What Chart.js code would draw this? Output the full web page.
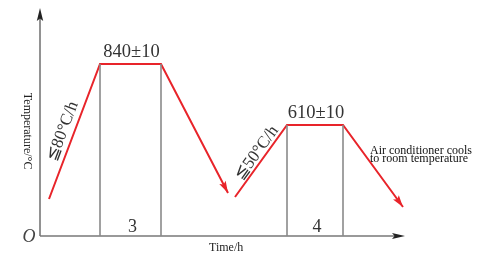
<!DOCTYPE html>
<html>
<head>
<meta charset="utf-8">
<script src="https://cdn.jsdelivr.net/npm/chart.js@4"></script>
<style>
html,body{margin:0;padding:0;background:#fff;}
#wrap{width:485px;height:272px;position:relative;}
</style>
</head>
<body>
<div id="wrap"><canvas id="c"></canvas></div>
<script>
// Schematic heat-treatment process (arbitrary time / temperature units)
const stage1Time = [9, 60, 121, 188];
const stage1Temp = [37, 172, 172, 43];
const stage2Time = [195, 247, 303, 363];
const stage2Temp = [39, 111, 111, 29];
const holdLabels = ["840±10", "610±10"];
const holdHours = ["3", "4"];
const rateLabels = ["≦80°C/h", "≦50°C/h"];
const coolNote = ["Air conditioner cools", "to room temperature"];
const xTitle = "Time/h";
const yTitle = "Temperature/°C";
const X_MAX = 365, Y_MAX = 228;

const RED = '#e8242a', GRAY = '#8a8a8a', TXT = '#333333';
const SERIF = '"Liberation Serif", "Times New Roman", serif';

function pts(xs, ys){ return xs.map((x,i)=>({x:x, y:ys[i]})); }
function holdLine(xs, ys, i){ return [{x:xs[i], y:0}, {x:xs[i], y:ys[i]}]; }

const datasets = [
  {data: holdLine(stage1Time, stage1Temp, 1), borderColor: GRAY},
  {data: holdLine(stage1Time, stage1Temp, 2), borderColor: GRAY},
  {data: holdLine(stage2Time, stage2Temp, 1), borderColor: GRAY},
  {data: holdLine(stage2Time, stage2Temp, 2), borderColor: GRAY},
  {data: pts(stage1Time, stage1Temp), borderColor: RED, borderWidth: 2},
  {data: pts(stage2Time, stage2Temp), borderColor: RED, borderWidth: 2}
].map(d => Object.assign({showLine: true, pointRadius: 0, borderWidth: 1.6, fill: false, tension: 0}, d));

function arrowHead(ctx, x0, y0, x1, y1, len, half, color){
  const a = Math.atan2(y1-y0, x1-x0);
  ctx.save();
  ctx.translate(x1, y1); ctx.rotate(a);
  ctx.beginPath();
  ctx.moveTo(0,0); ctx.lineTo(-len, -half); ctx.lineTo(-len*0.8, 0); ctx.lineTo(-len, half);
  ctx.closePath();
  ctx.fillStyle = color; ctx.fill();
  ctx.restore();
}

const rateShift = [[-4, 11], [4, 8]]; // [along line, away from line] in px

const decor = {
  id: 'decor',
  beforeDatasetsDraw(chart){
    const {ctx, scales:{x, y}} = chart;
    const ox = x.getPixelForValue(0), oy = y.getPixelForValue(0);
    const xe = x.getPixelForValue(X_MAX), yt = y.getPixelForValue(Y_MAX);
    ctx.save();
    ctx.strokeStyle = '#777'; ctx.lineWidth = 1.6;
    ctx.beginPath(); ctx.moveTo(ox, oy); ctx.lineTo(ox, yt+4); ctx.stroke();
    ctx.beginPath(); ctx.moveTo(ox, oy); ctx.lineTo(xe-4, oy); ctx.stroke();
    arrowHead(ctx, ox, oy, ox, yt, 13, 3.2, '#222');
    arrowHead(ctx, ox, oy, xe, oy, 13, 3, '#222');
    ctx.restore();
  },
  afterDatasetsDraw(chart){
    const {ctx, scales:{x, y}} = chart;
    const P = (tx, ty) => [x.getPixelForValue(tx), y.getPixelForValue(ty)];
    const stages = [[stage1Time, stage1Temp], [stage2Time, stage2Temp]];
    const oy = y.getPixelForValue(0);
    ctx.save();
    stages.forEach(([ts, vs], k) => {
      const n = ts.length;
      const [ax, ay] = P(ts[n-2], vs[n-2]);
      const [bx, by] = P(ts[n-1], vs[n-1]);
      arrowHead(ctx, ax, ay, bx, by, 12, 3.6, RED);
      // hold temperature label
      const [hx1, hy] = P(ts[1], vs[1]);
      const [hx2] = P(ts[2], vs[2]);
      ctx.fillStyle = TXT; ctx.textAlign = 'center'; ctx.textBaseline = 'alphabetic';
      ctx.font = '18.5px ' + SERIF;
      ctx.fillText(holdLabels[k], (hx1+hx2)/2 + 1, hy - 7);
      ctx.font = '18px ' + SERIF;
      ctx.fillText(holdHours[k], (hx1+hx2)/2 + 2, oy - 4);
      // heating rate label along the ramp
      const [sx, sy] = P(ts[0], vs[0]);
      const ang = Math.atan2(hy - sy, hx1 - sx);
      const mx = (sx + hx1)/2, my = (sy + hy)/2;
      const off = rateShift[k][1];
      ctx.save();
      ctx.translate(mx + Math.sin(ang)*off, my - Math.cos(ang)*off);
      ctx.rotate(ang);
      ctx.textBaseline = 'middle';
      ctx.font = '17px ' + SERIF;
      ctx.fillText(rateLabels[k], rateShift[k][0], 0);
      ctx.restore();
    });
    // cooling note
    const [cx, cy] = P(stage2Time[2], stage2Temp[2]);
    ctx.textAlign = 'left'; ctx.textBaseline = 'alphabetic'; ctx.fillStyle = '#111';
    ctx.font = '12px ' + SERIF;
    ctx.fillText(coolNote[0], cx + 27, cy + 29);
    ctx.fillText(coolNote[1], cx + 27, cy + 37);
    // axis titles
    const ox = x.getPixelForValue(0);
    ctx.fillStyle = '#222';
    ctx.font = '12px ' + SERIF; ctx.textAlign = 'center';
    ctx.fillText(xTitle, x.getPixelForValue(X_MAX*0.51), oy + 15);
    ctx.save();
    ctx.translate(ox - 13, y.getPixelForValue(Y_MAX*0.46));
    ctx.rotate(Math.PI/2);
    ctx.textBaseline = 'middle';
    ctx.fillText(yTitle, 0, 0);
    ctx.restore();
    ctx.fillStyle = '#444';
    ctx.font = 'italic 18px ' + SERIF; ctx.textAlign = 'center';
    ctx.fillText('O', ox - 11, oy + 6);
    ctx.restore();
  }
};

new Chart(document.getElementById('c'), {
  type: 'scatter',
  data: {datasets},
  options: {
    responsive: true, maintainAspectRatio: false, animation: false,
    layout: {padding: {left: 40, right: 80, top: 8, bottom: 36}},
    plugins: {legend: {display: false}, tooltip: {enabled: false}},
    scales: {
      x: {type: 'linear', min: 0, max: X_MAX, display: false},
      y: {type: 'linear', min: 0, max: Y_MAX, display: false}
    }
  },
  plugins: [decor]
});
</script>
</body>
</html>
